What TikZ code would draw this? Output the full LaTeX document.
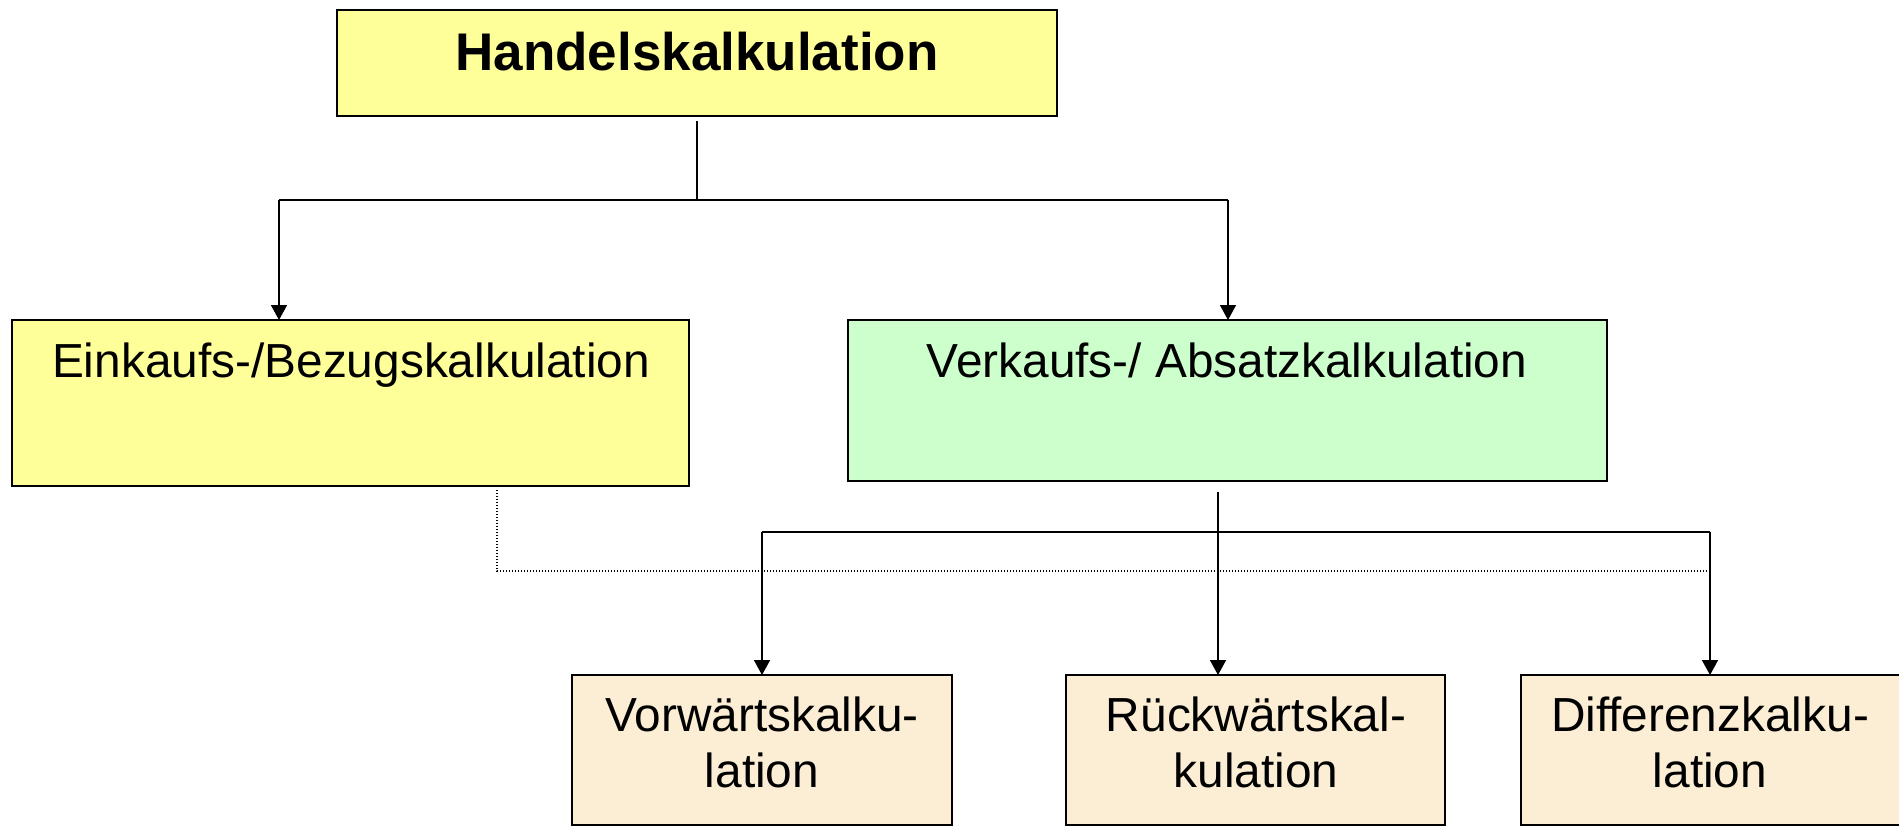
\documentclass[tikz,border=0pt]{standalone}
\usepackage{fontspec}
\setmainfont{Liberation Sans}
\usetikzlibrary{arrows.meta}
\definecolor{boxyellow}{RGB}{255,255,153}
\definecolor{boxgreen}{RGB}{204,255,204}
\definecolor{boxbeige}{RGB}{251,238,212}
\tikzset{
  px/.style={x=0.5pt,y=-0.5pt},
  box/.style={draw=black,line width=1pt,rectangle,inner sep=0pt,outer sep=0pt,anchor=north west},
  conn/.style={line width=0.8pt,draw=black},
  arr/.style={conn,-{Triangle[width=8pt,length=7.5pt]}},
  dotline/.style={line width=0.6pt,dash pattern=on 0.6pt off 0.9pt},
  lbl/.style={anchor=base,inner sep=0pt,font=\fontsize{23.9}{28}\selectfont},
  ttl/.style={anchor=base,inner sep=0pt,font=\fontsize{26.5}{30}\selectfont\bfseries},
}
\newcommand{\twolines}[2]{\begin{tabular}[t]{@{}c@{}}#1\\#2\end{tabular}}
\begin{document}
\begin{tikzpicture}[px]
\useasboundingbox (0,0) rectangle (1899,827);
% boxes
\node[box,fill=boxyellow,minimum width=360pt,minimum height=53pt] (top) at (337,10) {};
\node[box,fill=boxyellow,minimum width=338.5pt,minimum height=83pt] (ein) at (12,320) {};
\node[box,fill=boxgreen,minimum width=379.5pt,minimum height=80.5pt] (ver) at (848,320) {};
\node[box,fill=boxbeige,minimum width=190pt,minimum height=75pt] (vor) at (572,675) {};
\node[box,fill=boxbeige,minimum width=189.5pt,minimum height=75pt] (rue) at (1066,675) {};
\node[box,fill=boxbeige,minimum width=190pt,minimum height=75pt] (dif) at (1521,675) {};
% texts
\node[ttl] (toptxt) at (697,70) {Handelskalkulation};
\node[lbl] (eintxt) at (351,377) {Einkaufs-/Bezugskalkulation};
\node[lbl] (vertxt) at (1227,377) {Verkaufs-/ Absatzkalkulation};
\node[lbl] (vortxt) at (762,731) {\twolines{Vorwärtskalku-}{lation}};
\node[lbl] (ruetxt) at (1256,731) {\twolines{Rückwärtskal-}{kulation}};
\node[lbl] (diftxt) at (1710,731) {\twolines{Differenzkalku-}{lation}};
% connector points
\coordinate (t0) at (697,121);
\coordinate (tj) at (697,200);
\coordinate (tl) at (279,200);
\coordinate (tr) at (1228,200);
\coordinate (v0) at (1218,492);
\coordinate (vl) at (762,532);
\coordinate (vr) at (1710,532);
\coordinate (e0) at (497,490);
\coordinate (ec) at (497,571);
\coordinate (ee) at (1710,571);
% connectors
\draw[conn] (t0) -- (tj);
\draw[conn] (tl) -- (tr);
\draw[arr] (tl) -- (tl |- ein.north);
\draw[arr] (tr) -- (tr |- ver.north);
\draw[arr] (v0) -- (v0 |- rue.north);
\draw[conn] (vl) -- (vr);
\draw[arr] (vl) -- (vl |- vor.north);
\draw[arr] (vr) -- (vr |- dif.north);
\draw[dotline] (e0) -- (ec) -- (ee);
\end{tikzpicture}
\end{document}
